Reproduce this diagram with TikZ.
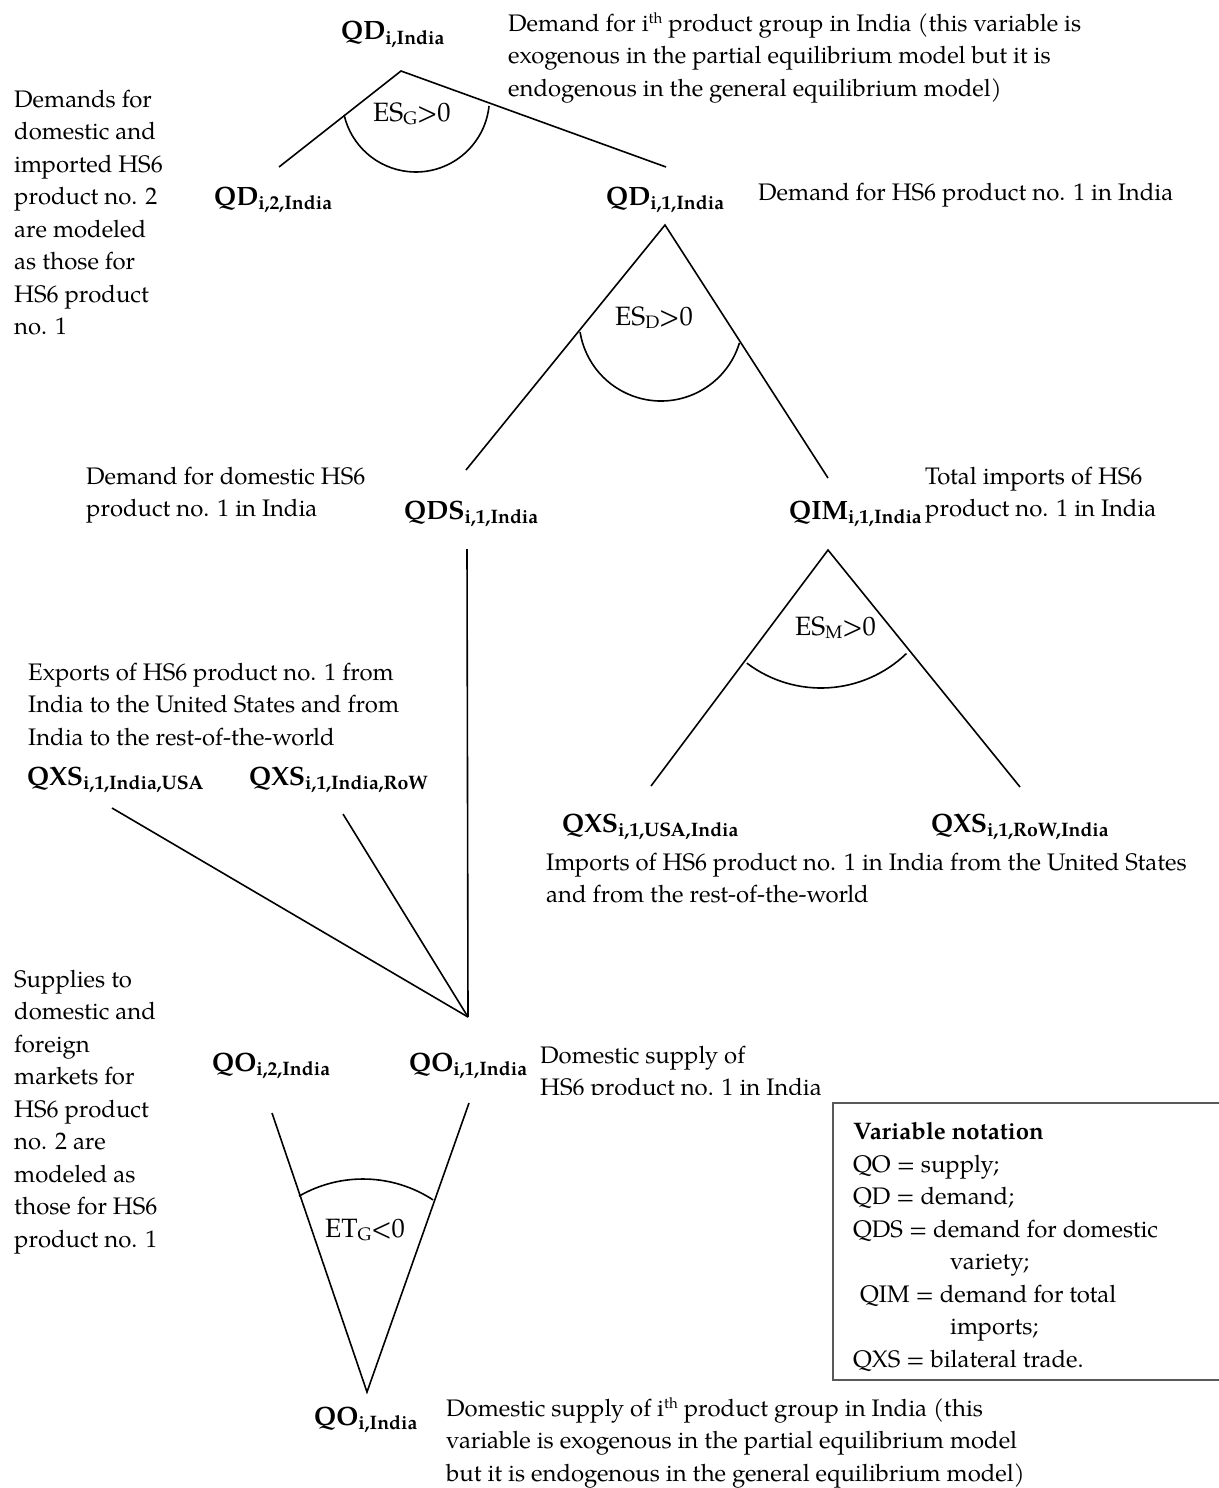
\documentclass[tikz,border=0pt]{standalone}
\usepackage{fontspec}
\setmainfont{TeX Gyre Pagella}
\newcommand\mylab[2]{{\fontsize{26.5}{26.5}\selectfont\bfseries #1}{\fontsize{19.5}{19.5}\selectfont\bfseries\raisebox{-4.5pt}{#2}}}
\newcommand\mysub[1]{\raisebox{-3.5pt}{\fontsize{18}{18}\selectfont #1}}
\newcommand\mysup{\raisebox{7.5pt}{\fontsize{15}{15}\selectfont th}}
\begin{document}
\begin{tikzpicture}[x=1pt,y=-1pt,
  ln/.style={line width=1.6pt},
  txt/.style={anchor=base west, inner sep=0pt, align=left, font=\fontsize{23.9}{32.5}\selectfont},
  lab/.style={anchor=base west, inner sep=0pt},
  ang/.style={anchor=base west, inner sep=0pt, font=\fontsize{26.5}{28}\selectfont}]
\useasboundingbox (0,0) rectangle (1218,1488);

% ---------- labels ----------
\node[lab] (qdi) at (341,40) {\mylab{QD}{i,India}};
\node[lab] (qd2) at (214,205) {\mylab{QD}{i,2,India}};
\node[lab] (qd1) at (606,205) {\mylab{QD}{i,1,India}};
\node[lab] (qds) at (404,519) {\mylab{QDS}{i,1,India}};
\node[lab] (qim) at (789,519) {\mylab{QIM}{i,1,India}};
\node[lab] (qxsiu) at (27,785) {\mylab{QXS}{i,1,India,USA}};
\node[lab] (qxsir) at (249,785) {\mylab{QXS}{i,1,India,RoW}};
\node[lab] (qxsui) at (562,832) {\mylab{QXS}{i,1,USA,India}};
\node[lab] (qxsri) at (931,832) {\mylab{QXS}{i,1,RoW,India}};
\node[lab] (qo2) at (212,1071) {\mylab{QO}{i,2,India}};
\node[lab] (qo1) at (409,1071) {\mylab{QO}{i,1,India}};
\node[lab] (qoi) at (314,1425) {\mylab{QO}{i,India}};

% ---------- descriptions (anchored at the baseline of the last line) ----------
\node[txt] (d1) at (508,96) {Demand for i\mysup{} product group in India (this variable is\\exogenous in the partial equilibrium model but it is\\endogenous in the general equilibrium model)};
\node[txt] (d2) at (14,334.5) {Demands for\\domestic and\\imported HS6\\product no. 2\\are modeled\\as those for\\HS6 product\\no. 1};
\node[txt] (d3) at (758,200) {Demand for HS6 product no. 1 in India};
\node[txt] (d4) at (86,516.5) {Demand for domestic HS6\\product no. 1 in India};
\node[txt] (d5) at (925,516.5) {Total imports of HS6\\product no. 1 in India};
\node[txt] (d6) at (28,745) {Exports of HS6 product no. 1 from\\India to the United States and from\\India to the rest-of-the-world};
\node[txt] (d7) at (546,902.5) {Imports of HS6 product no. 1 in India from the United States\\and from the rest-of-the-world};
\node[txt] (d8) at (14,1247) {Supplies to\\domestic and\\foreign\\markets for\\HS6 product\\no. 2 are\\modeled as\\those for HS6\\product no. 1};
\begin{scope}
\clip (530,1030) rectangle (900,1094);
\node[txt] (d9) at (540,1095.5) {Domestic supply of\\HS6 product no. 1 in India};
\end{scope}
\node[txt] (d10) at (446,1481) {Domestic supply of i\mysup{} product group in India (this\\variable is exogenous in the partial equilibrium model\\but it is endogenous in the general equilibrium model)};

% ---------- elasticity labels ----------
\node[ang] (esg) at (373,121) {ES\mysub{G}>0};
\node[ang] (esd) at (615,325) {ES\mysub{D}>0};
\node[ang] (esm) at (795,635) {ES\mysub{M}>0};
\node[ang] (etg) at (325,1237) {ET\mysub{G}<0};

% ---------- line end points ----------
\coordinate (a1) at (401,71);
\coordinate (a1l) at (279,167);
\coordinate (a1r) at (666,167);
\coordinate (a2) at (665,225);
\coordinate (a2l) at (466,470);
\coordinate (a2r) at (828,478);
\coordinate (a3) at (828,550);
\coordinate (a3l) at (651,786);
\coordinate (a3r) at (1020,787);
\coordinate (qdsb) at (467,549);
\coordinate (jn) at (468,1017);
\coordinate (xu) at (112,808);
\coordinate (xr) at (343,814);
\coordinate (b2) at (272,1113);
\coordinate (b1) at (469,1103);
\coordinate (bo) at (367,1392);

\draw[ln] (a1l) -- (a1) -- (a1r);
\draw[ln] (a2l) -- (a2) -- (a2r);
\draw[ln] (a3l) -- (a3) -- (a3r);
\draw[ln] (qdsb) -- (jn);
\draw[ln] (xu) -- (jn);
\draw[ln] (xr) -- (jn);
\draw[ln] (b2) -- (bo) -- (b1);

% ---------- arcs ----------
\draw[ln] (415.8,98.4) ++(5.9:73.6) arc[start angle=5.9, end angle=167, radius=73.6];
\draw[ln] (661,319) ++(16.9:82) arc[start angle=16.9, end angle=170.8, radius=82];
\draw[ln] (821,565) ++(46:123) arc[start angle=46, end angle=127.1, radius=123];
\draw[ln] (363,1307) ++(240:128) arc[start angle=240, end angle=303.2, radius=128];

% ---------- notation box ----------
\draw[line width=1.2pt, black!65] (833,1103) rectangle (1230,1380);
\node[txt] (nb) at (853,1367) {\textbf{Variable notation}\\QO = supply;\\QD = demand;\\QDS = demand for domestic\\\hspace{97pt}variety;\\\hspace{7pt}QIM = demand for total\\\hspace{97pt}imports;\\QXS = bilateral trade.};
\end{tikzpicture}
\end{document}
